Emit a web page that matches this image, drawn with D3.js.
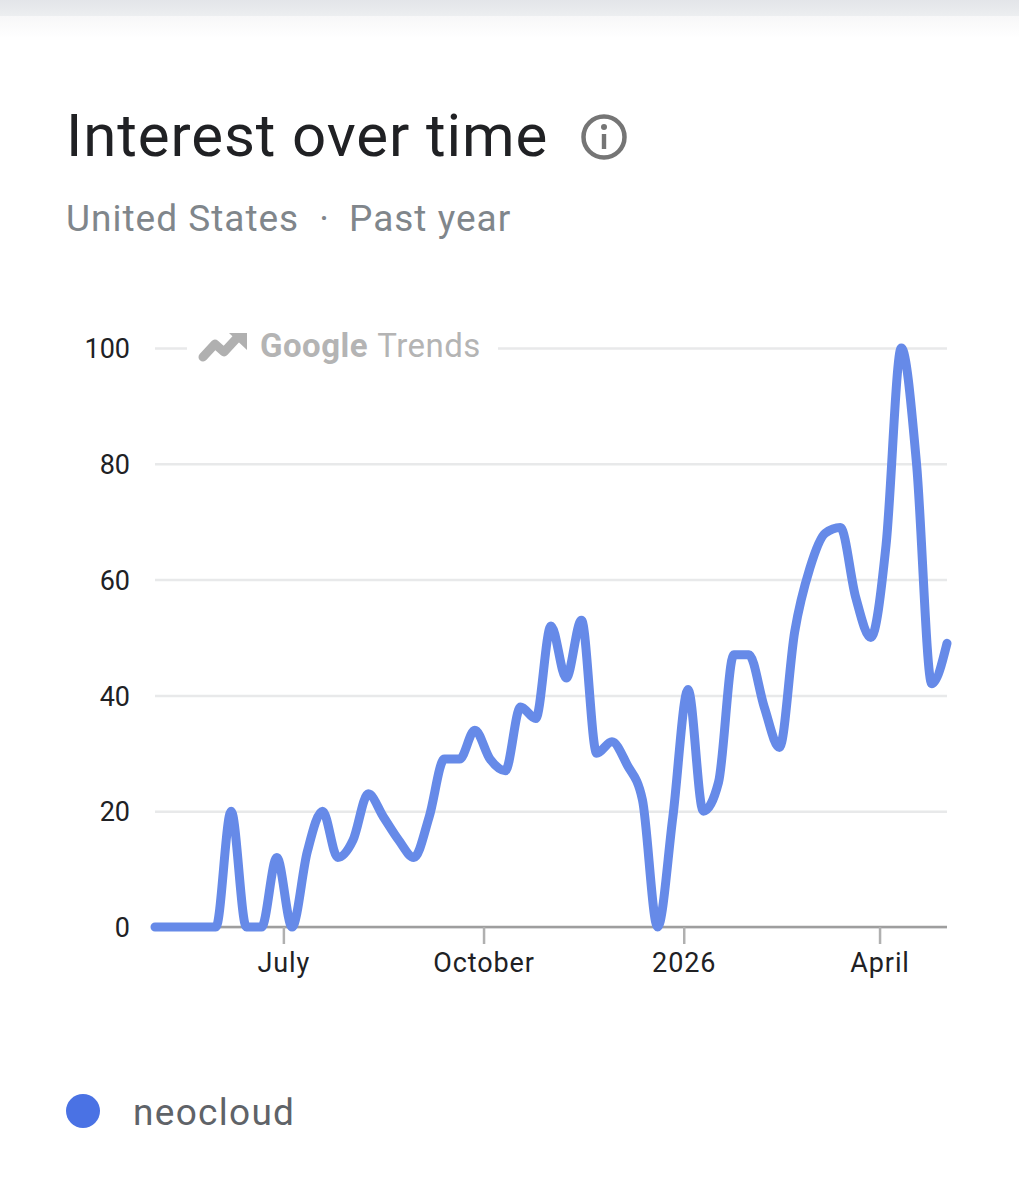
<!DOCTYPE html>
<html>
<head>
<meta charset="utf-8">
<script src="https://cdn.jsdelivr.net/npm/d3@7"></script>
<style>
  html, body { margin: 0; padding: 0; background: #fff; }
  text { font-family: Roboto, sans-serif; }
</style>
</head>
<body>
<div class="canvas"></div>
<script>
// weekly interest values
const interest = [
  0, 0, 0, 0, 0, 20, 0, 0, 12, 0, 13, 20, 12,
  15, 23, 19, 15, 12, 19, 29, 29, 34, 29, 27, 38, 36,
  52, 43, 53, 30, 32, 28, 22, 0, 19, 41, 20, 25, 47,
  47, 38, 31, 51, 62, 68, 69, 57, 50, 66, 100, 80, 42, 49
];
const firstWeek = new Date(2025, 4, 3);
const yTicks = [0, 20, 40, 60, 80, 100];
const xTickDates = [new Date(2025, 6, 1), new Date(2025, 9, 1), new Date(2026, 0, 1), new Date(2026, 3, 1)];
const xTickLabels = ['July', 'October', '2026', 'April'];
const seriesName = 'neocloud';

const weeks = interest.map((d, i) => d3.timeDay.offset(firstWeek, i * 7));

const svg = d3.select('.canvas')
  .append('svg')
    .attr('width', 1019)
    .attr('height', 1199)
    .style('display', 'block');

// top page shadow
const defs = svg.append('defs');
const shade = defs.append('linearGradient')
  .attr('id', 'shade')
  .attr('x1', 0).attr('x2', 0).attr('y1', 0).attr('y2', 1);
shade.append('stop').attr('offset', '0%').attr('stop-color', '#e3e5e9');
shade.append('stop').attr('offset', '100%').attr('stop-color', '#eceef0');
const fade = defs.append('linearGradient')
  .attr('id', 'fade')
  .attr('x1', 0).attr('x2', 0).attr('y1', 0).attr('y2', 1);
fade.append('stop').attr('offset', '0%').attr('stop-color', '#f7f7f8');
fade.append('stop').attr('offset', '100%').attr('stop-color', '#ffffff');
svg.append('rect').attr('width', 1019).attr('height', 16).attr('fill', 'url(#shade)');
svg.append('rect').attr('y', 16).attr('width', 1019).attr('height', 22).attr('fill', 'url(#fade)');

// heading
svg.append('text')
  .attr('x', 66).attr('y', 156)
  .attr('font-size', 60)
  .attr('letter-spacing', 0.9)
  .attr('fill', '#202124')
  .text('Interest over time');

const info = svg.append('g').attr('transform', 'translate(604, 137)');
info.append('circle').attr('r', 20.5).attr('fill', 'none').attr('stroke', '#757575').attr('stroke-width', 4.5);
info.append('circle').attr('cy', -10).attr('r', 3).attr('fill', '#757575');
info.append('rect').attr('x', -2.2).attr('y', -3).attr('width', 4.4).attr('height', 15).attr('fill', '#757575');

svg.append('text')
  .attr('x', 66).attr('y', 231)
  .attr('font-size', 37)
  .attr('letter-spacing', 1)
  .attr('fill', '#80868b')
  .text('United States');
svg.append('text')
  .attr('x', 324).attr('y', 231)
  .attr('font-size', 37)
  .attr('text-anchor', 'middle')
  .attr('fill', '#80868b')
  .text('·');
svg.append('text')
  .attr('x', 349).attr('y', 231)
  .attr('font-size', 37)
  .attr('letter-spacing', 1)
  .attr('fill', '#80868b')
  .text('Past year');

// scales
const x = d3.scaleTime()
  .domain([weeks[0], weeks[weeks.length - 1]])
  .range([155, 947]);
const y = d3.scaleLinear()
  .domain([0, 100])
  .range([927, 348]);

// y axis with gridlines
const yAxis = d3.axisLeft(y)
  .tickValues(yTicks)
  .tickSize(-792)
  .tickPadding(25);
const yAxisGroup = svg.append('g')
  .attr('transform', 'translate(155, 0)')
  .call(yAxis);
yAxisGroup.select('.domain').remove();
yAxisGroup.selectAll('line').attr('stroke', '#e8e9ea').attr('stroke-width', 2.5);
yAxisGroup.selectAll('text')
  .attr('font-size', 27)
  .attr('dy', '0.36em')
  .attr('fill', '#202124');

// watermark sits on the 100 gridline
svg.append('rect').attr('x', 187).attr('y', 325).attr('width', 311).attr('height', 44).attr('fill', '#fff');
svg.append('path')
  .attr('d', 'M203 357 L215 344 L224 352 L236 339')
  .attr('fill', 'none')
  .attr('stroke', '#b0b0b0')
  .attr('stroke-width', 9)
  .attr('stroke-linecap', 'round')
  .attr('stroke-linejoin', 'round');
svg.append('path')
  .attr('d', 'M229 333 L247 333 L247 350 Z')
  .attr('fill', '#b0b0b0');
const mark = svg.append('text')
  .attr('x', 260).attr('y', 357)
  .attr('font-size', 33)
  .attr('letter-spacing', 0.5)
  .attr('fill', '#b4b4b4');
mark.append('tspan').attr('font-weight', 700).text('Google');
mark.append('tspan').attr('dx', 9).text('Trends');

// x axis
const xAxis = d3.axisBottom(x)
  .tickValues(xTickDates)
  .tickFormat((d, i) => xTickLabels[i])
  .tickSize(17)
  .tickPadding(9);
const xAxisGroup = svg.append('g')
  .attr('transform', 'translate(0, 927)')
  .call(xAxis);
xAxisGroup.select('.domain').attr('d', 'M155,0H947').attr('stroke', '#9e9e9e').attr('stroke-width', 2.5);
xAxisGroup.selectAll('line').attr('stroke', '#b0b0b0').attr('stroke-width', 2.5);
xAxisGroup.selectAll('text')
  .attr('font-size', 27)
  .attr('letter-spacing', 0.9)
  .attr('fill', '#202124');

// trend line
const line = d3.line()
  .x((d, i) => x(weeks[i]))
  .y(d => y(d))
  .curve(d3.curveMonotoneX);
svg.append('path')
  .datum(interest)
  .attr('d', line)
  .attr('fill', 'none')
  .attr('stroke', '#668ae8')
  .attr('stroke-width', 9)
  .attr('stroke-linecap', 'round')
  .attr('stroke-linejoin', 'round');

// legend
svg.append('circle').attr('cx', 83).attr('cy', 1111).attr('r', 17).attr('fill', '#4a72e4');
svg.append('text')
  .attr('x', 133).attr('y', 1125)
  .attr('font-size', 37)
  .attr('letter-spacing', 1.3)
  .attr('fill', '#5f6368')
  .text(seriesName);
</script>
</body>
</html>
